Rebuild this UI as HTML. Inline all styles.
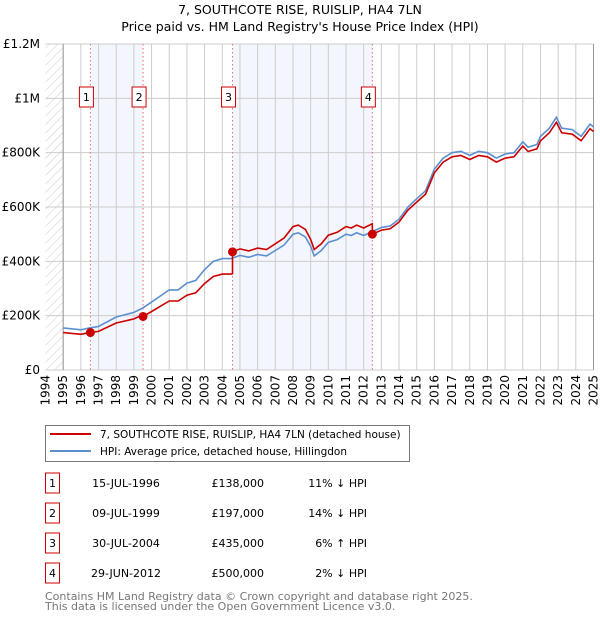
<!DOCTYPE html>
<html><head><meta charset="utf-8"><style>
body{margin:0;background:#fff;font-family:"Liberation Sans","DejaVu Sans",sans-serif;}
svg text{font-family:"DejaVu Sans","Liberation Sans",sans-serif;}
</style></head><body>
<svg id="c" width="600" height="620" viewBox="0 0 600 620">
<defs><pattern id="hatch" width="6" height="6" patternUnits="userSpaceOnUse" patternTransform="rotate(45)"><line x1="0" y1="0" x2="0" y2="6" stroke="#ccc" stroke-width="1"/></pattern></defs>
<text x="300" y="14" text-anchor="middle" font-size="12.5">7, SOUTHCOTE RISE, RUISLIP, HA4 7LN</text>
<text x="300" y="31" text-anchor="middle" font-size="12.5">Price paid vs. HM Land Registry's House Price Index (HPI)</text>
<g id="plot"></g>
<g>
<rect x="45.5" y="425.5" width="364" height="36" fill="#fff" stroke="#777"/>
<line x1="50" y1="434" x2="91" y2="434" stroke="#cc0000" stroke-width="2"/>
<text x="100" y="438" font-size="10.5">7, SOUTHCOTE RISE, RUISLIP, HA4 7LN (detached house)</text>
<line x1="50" y1="451" x2="91" y2="451" stroke="#5b8fd0" stroke-width="2"/>
<text x="100" y="455" font-size="10.5">HPI: Average price, detached house, Hillingdon</text>
</g>
<g id="table" font-size="11"></g>
<text x="45" y="600" font-size="11" fill="#777">Contains HM Land Registry data © Crown copyright and database right 2025.</text>
<text x="45" y="610" font-size="11" fill="#777">This data is licensed under the Open Government Licence v3.0.</text>
</svg>
<script>
const hpiYears=[1995.0,1996.0,1996.5,1997.0,1998.0,1999.0,1999.5,2000.0,2001.0,2001.5,2002.0,2002.5,2003.0,2003.5,2004.0,2004.5,2005.0,2005.5,2006.0,2006.5,2007.0,2007.5,2008.0,2008.3,2008.7,2009.0,2009.2,2009.6,2010.0,2010.5,2011.0,2011.3,2011.6,2012.0,2012.5,2013.0,2013.5,2014.0,2014.5,2015.0,2015.5,2016.0,2016.5,2017.0,2017.5,2018.0,2018.5,2019.0,2019.5,2020.0,2020.5,2021.0,2021.3,2021.8,2022.0,2022.5,2022.9,2023.2,2023.8,2024.3,2024.8,2025.0];
const hpiValues=[155,148,155,160,195,212,228,250,295,295,320,330,370,400,410,410,422,415,425,420,440,460,500,505,490,455,420,440,470,480,500,495,505,495,510,525,530,555,600,630,660,740,780,800,805,790,805,800,780,795,800,840,820,830,860,890,930,890,885,860,905,895];
const saleYears=[1996.54,1999.52,2004.58,2012.49];
const salePrices=[138,197,435,500];
const saleDates=["15-JUL-1996","09-JUL-1999","30-JUL-2004","29-JUN-2012"];
const salePriceLabels=["£138,000","£197,000","£435,000","£500,000"];
const saleHpiLabels=["11% ↓ HPI","14% ↓ HPI","6% ↑ HPI","2% ↓ HPI"];
const yTicks=[0,200,400,600,800,1000,1200];
const yTickLabels=["£0","£200K","£400K","£600K","£800K","£1M","£1.2M"];
const xMin=1994,xMax=2025,yMax=1200;
const L=45.5,R=593.5,T=44,B=370;
const X=v=>L+(v-xMin)/(xMax-xMin)*(R-L);
const Y=v=>B-v/yMax*(B-T);
const NS="http://www.w3.org/2000/svg";
function mk(tag,attrs,parent){const e=document.createElementNS(NS,tag);for(const k in attrs)e.setAttribute(k,attrs[k]);parent.appendChild(e);return e;}
const g=document.getElementById('plot');
function hpiAt(t){for(let i=0;i<hpiYears.length-1;i++){if(t<=hpiYears[i+1]){const f=(t-hpiYears[i])/(hpiYears[i+1]-hpiYears[i]);return hpiValues[i]+f*(hpiValues[i+1]-hpiValues[i]);}}return hpiValues[hpiValues.length-1];}
let r=mk('rect',{x:L,y:T,width:X(1995)-L,height:B-T,fill:'url(#hatch)'},g);


[[0,1],[2,3]].forEach(p=>{const s=mk('rect',{x:X(saleYears[p[0]]),y:T,width:X(saleYears[p[1]])-X(saleYears[p[0]]),height:B-T,fill:'#f3f6fd'},g);

});
for(let yr=1995;yr<=2025;yr++){const l=mk('line',{x1:X(yr),x2:X(yr),y1:T,y2:B,stroke:'#ccc','stroke-width':1},g);

}
yTicks.forEach((v,i)=>{const l=mk('line',{x1:L,x2:R,y1:Y(v),y2:Y(v),stroke:'#ccc','stroke-width':1},g);


const t=mk('text',{x:40,y:Y(v)+4,'text-anchor':'end','font-size':12},g);t.textContent=yTickLabels[i];

});
mk('line',{x1:X(1995),x2:X(1995),y1:T,y2:B,stroke:'#999'},g);
mk('line',{x1:R,x2:R,y1:T,y2:B,stroke:'#999'},g);
for(let yr=1994;yr<=2025;yr++){const t=mk('text',{x:0,y:0,'font-size':12,'text-anchor':'end',transform:`translate(${X(yr)+4},${B+5}) rotate(-90)`},g);t.textContent=yr;

}
saleYears.forEach((s,i)=>{const l=mk('line',{x1:X(s),x2:X(s),y1:T,y2:B,stroke:'#e87070','stroke-width':1,'stroke-dasharray':'1.5,2.5'},g);


const bx=mk('rect',{x:X(s)-11,y:87,width:14,height:20,fill:'#fff',stroke:'#cc0000'},g);


const t=mk('text',{x:X(s)-4,y:101,'text-anchor':'middle','font-size':11},g);t.textContent=i+1;});
let d=hpiYears.map((t,i)=>(i?'L':'M')+X(t).toFixed(1)+','+Y(hpiValues[i]).toFixed(1)).join('');
let p=mk('path',{d,fill:'none',stroke:'#5b8fd0','stroke-width':1.6},g);


const pts=[];
const times=hpiYears.slice();saleYears.forEach(s=>{times.push(s-0.001);times.push(s);});times.sort((a,b)=>a-b);
times.forEach(t=>{let k=0;for(let j=0;j<saleYears.length;j++)if(t>=saleYears[j])k=j;const f=salePrices[k]/hpiAt(saleYears[k]);pts.push([t,hpiAt(t)*f]);});
d=pts.map((q,i)=>(i?'L':'M')+X(q[0]).toFixed(1)+','+Y(q[1]).toFixed(1)).join('');
p=mk('path',{d,fill:'none',stroke:'#cc0000','stroke-width':1.6},g);


saleYears.forEach((s,i)=>{const c=mk('circle',{cx:X(s),cy:Y(salePrices[i]),r:4.5,fill:'#cc0000'},g);

});
const tb=document.getElementById('table');
saleDates.forEach((dt,i)=>{const y=487+i*30;
const b=mk('rect',{x:45.5,y:y-14,width:14,height:20,fill:'#fff',stroke:'#cc0000'},tb);


let t=mk('text',{x:52.5,y:y,'text-anchor':'middle'},tb);t.textContent=i+1;
t=mk('text',{x:126,y:y,'text-anchor':'middle'},tb);t.textContent=dt;


t=mk('text',{x:264,y:y,'text-anchor':'end'},tb);t.textContent=salePriceLabels[i];


t=mk('text',{x:367,y:y,'text-anchor':'end'},tb);t.textContent=saleHpiLabels[i];

});
</script>
</body></html>
